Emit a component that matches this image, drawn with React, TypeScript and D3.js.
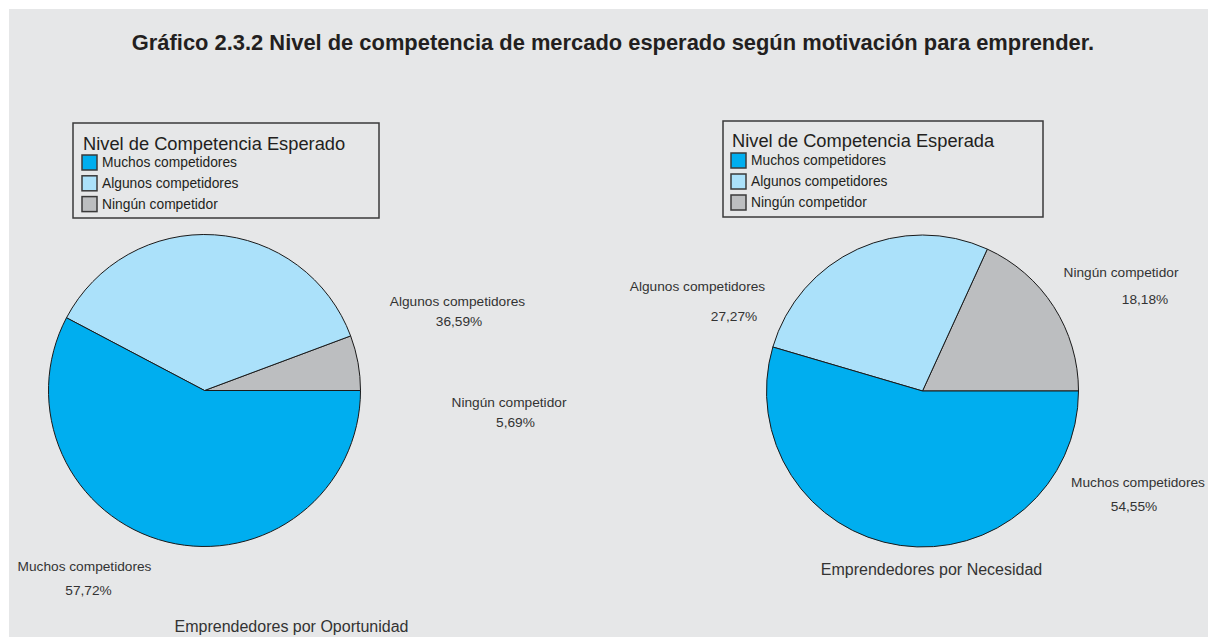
import React from "react";
import * as d3 from "d3";

const title = "Gráfico 2.3.2 Nivel de competencia de mercado esperado según motivación para emprender.";
const categories = ["Muchos competidores", "Algunos competidores", "Ningún competidor"];
const oportunidad = [57.72, 36.59, 5.69];
const necesidad = [54.55, 27.27, 18.18];
const pieTitles = ["Emprendedores por Oportunidad", "Emprendedores por Necesidad"];
const legendTitles = ["Nivel de Competencia Esperado", "Nivel de Competencia Esperada"];
const colors = ["#00aeef", "#abe1fa", "#bcbec0"];

const FONT = "'Liberation Sans', Arial, sans-serif";
const fmt = (v: number) => v.toFixed(2).replace(".", ",") + "%";

type LabelPos = { x: number; y1: number; px: number; y2: number };

const charts = [
  {
    values: oportunidad,
    cx: 204.5, cy: 390.5, r: 156,
    legend: { x: 73, y: 123, w: 306, h: 95, tx: 83, ty: 150, sx: 82, ty0: 167, dy: 20.8 },
    labels: [
      { x: 84.5, y1: 571, px: 88.5, y2: 595 },
      { x: 457.5, y1: 306, px: 459, y2: 326 },
      { x: 509, y1: 407, px: 515.5, y2: 427 },
    ] as LabelPos[],
    caption: { x: 291.5, y: 632 },
  },
  {
    values: necesidad,
    cx: 922.5, cy: 391, r: 156,
    legend: { x: 723, y: 121, w: 320, h: 96, tx: 732, ty: 147, sx: 731, ty0: 165, dy: 21 },
    labels: [
      { x: 1138, y1: 487, px: 1134, y2: 511 },
      { x: 697.5, y1: 291, px: 734, y2: 321 },
      { x: 1121, y1: 277, px: 1145, y2: 304 },
    ] as LabelPos[],
    caption: { x: 931.5, y: 575 },
  },
];

function Pie({ c, idx }: { c: (typeof charts)[number]; idx: number }) {
  const order = [2, 1, 0];
  const pie = d3
    .pie<number>()
    .sort(null)
    .value((i) => c.values[i])
    .startAngle(Math.PI / 2)
    .endAngle(Math.PI / 2 - 2 * Math.PI);
  const arcs = pie(order);
  const arc = d3.arc<d3.PieArcDatum<number>>().innerRadius(0).outerRadius(c.r);
  const L = c.legend;
  return (
    <g>
      <g transform={`translate(${c.cx},${c.cy})`}>
        {arcs.map((a) => (
          <path key={a.data} d={arc(a) as string} fill={colors[a.data]} stroke="#1a1a1a" strokeWidth={1} strokeLinejoin="round" />
        ))}
      </g>
      <rect x={L.x} y={L.y} width={L.w} height={L.h} fill="none" stroke="#3a3a3a" strokeWidth={1.5} />
      <text x={L.tx} y={L.ty} fontFamily={FONT} fontSize={18.3} fill="#231f20">{legendTitles[idx]}</text>
      {categories.map((cat, i) => (
        <g key={cat}>
          <rect x={L.sx} y={L.ty0 + i * L.dy - 12} width={15} height={15} fill={colors[i]} stroke="#3a3a3a" strokeWidth={1.5} />
          <text x={L.sx + 20} y={L.ty0 + i * L.dy} fontFamily={FONT} fontSize={13.8} fill="#231f20">{cat}</text>
        </g>
      ))}
      {categories.map((cat, i) => {
        const p = c.labels[i];
        return (
          <g key={"l" + cat}>
            <text x={p.x} y={p.y1} textAnchor="middle" fontFamily={FONT} fontSize={13.7} fill="#333">{cat}</text>
            <text x={p.px} y={p.y2} textAnchor="middle" fontFamily={FONT} fontSize={13.7} fill="#333">{fmt(c.values[i])}</text>
          </g>
        );
      })}
      <text x={c.caption.x} y={c.caption.y} textAnchor="middle" fontFamily={FONT} fontSize={16} fill="#333">{pieTitles[idx]}</text>
    </g>
  );
}

export default function App() {
  return (
    <svg width={1208} height={637} style={{ position: "absolute", left: 0, top: 0 }}>
      <rect x={0} y={0} width={1208} height={637} fill="#ffffff" />
      <rect x={9} y={9} width={1199} height={628} fill="#e6e7e8" />
      <text x={613} y={50} textAnchor="middle" fontFamily={FONT} fontWeight="bold" fontSize={21.9} fill="#231f20">{title}</text>
      {charts.map((c, i) => (
        <Pie key={i} c={c} idx={i} />
      ))}
    </svg>
  );
}
